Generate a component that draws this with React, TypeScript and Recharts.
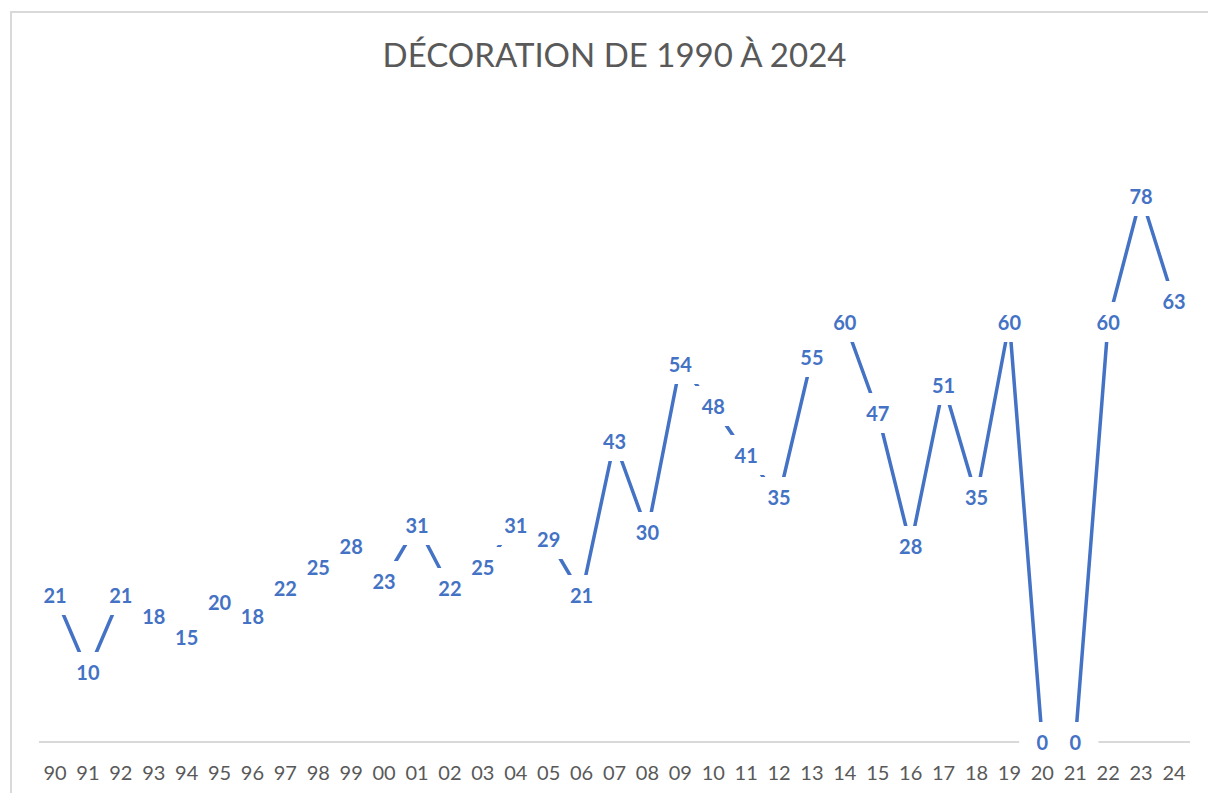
import { LineChart, Line, XAxis, YAxis, LabelList } from 'recharts';

const years = [
  '90', '91', '92', '93', '94', '95', '96', '97', '98', '99',
  '00', '01', '02', '03', '04', '05', '06', '07', '08', '09',
  '10', '11', '12', '13', '14', '15', '16', '17', '18', '19',
  '20', '21', '22', '23', '24',
];
const decorations = [
  21, 10, 21, 18, 15, 20, 18, 22, 25, 28,
  23, 31, 22, 25, 31, 29, 21, 43, 30, 54,
  48, 41, 35, 55, 60, 47, 28, 51, 35, 60,
  0, 0, 60, 78, 63,
];

const data = years.map((year, i) => ({ year, value: decorations[i] }));

const BLUE = '#4472C4';
const GREY = '#595959';
const FONT = 'Lato, "Open Sans", sans-serif';

// Excel-style data label: white box under each number hides the line around it.
// Boxes go in one pass, numbers in a second, so no box covers a neighbour's text.
function LabelBox(props: any) {
  const { x, y, value } = props;
  const halfW = 18 + 5.2 * String(value).length;
  const halfH = 20;
  return <rect x={x - halfW} y={y - halfH} width={halfW * 2} height={halfH * 2} fill="#fff" />;
}

function LabelText(props: any) {
  const { x, y, value } = props;
  return (
    <text
      x={x}
      y={y}
      textAnchor="middle"
      dominantBaseline="central"
      fill={BLUE}
      fontFamily={FONT}
      fontWeight={700}
      fontSize={20}
    >
      {value}
    </text>
  );
}

export default function App() {
  return (
    <div
      style={{
        position: 'absolute',
        left: 0,
        top: 0,
        width: 1208,
        height: 793,
        background: '#fff',
        overflow: 'hidden',
        fontFamily: FONT,
      }}
    >
      <div
        style={{
          position: 'absolute',
          left: 10,
          top: 11,
          width: 1300,
          height: 900,
          borderLeft: '2px solid #d9d9d9',
          borderTop: '2px solid #d9d9d9',
        }}
      />
      <div
        style={{
          position: 'absolute',
          left: 39,
          width: 1151,
          top: 34,
          textAlign: 'center',
          fontSize: 33,
          color: GREY,
          lineHeight: '40px',
        }}
      >
        DÉCORATION DE 1990 À 2024
      </div>
      <LineChart
        width={1208}
        height={793}
        data={data}
        margin={{ top: 112, right: 18, bottom: 21, left: 39 }}
        style={{ position: 'absolute', left: 0, top: 0 }}
      >
        <XAxis
          dataKey="year"
          height={30}
          interval={0}
          padding={{ left: 16, right: 16 }}
          tickLine={false}
          tickMargin={18}
          axisLine={{ stroke: '#d9d9d9', strokeWidth: 2 }}
          tick={{ fill: GREY, fontSize: 20, fontFamily: FONT }}
        />
        <YAxis hide domain={[0, 90]} />
        <Line
          dataKey="value"
          stroke={BLUE}
          strokeWidth={3.5}
          dot={false}
          activeDot={false}
          type="linear"
          isAnimationActive={false}
        >
          <LabelList dataKey="value" content={LabelBox} />
          <LabelList dataKey="value" content={LabelText} />
        </Line>
      </LineChart>
    </div>
  );
}
